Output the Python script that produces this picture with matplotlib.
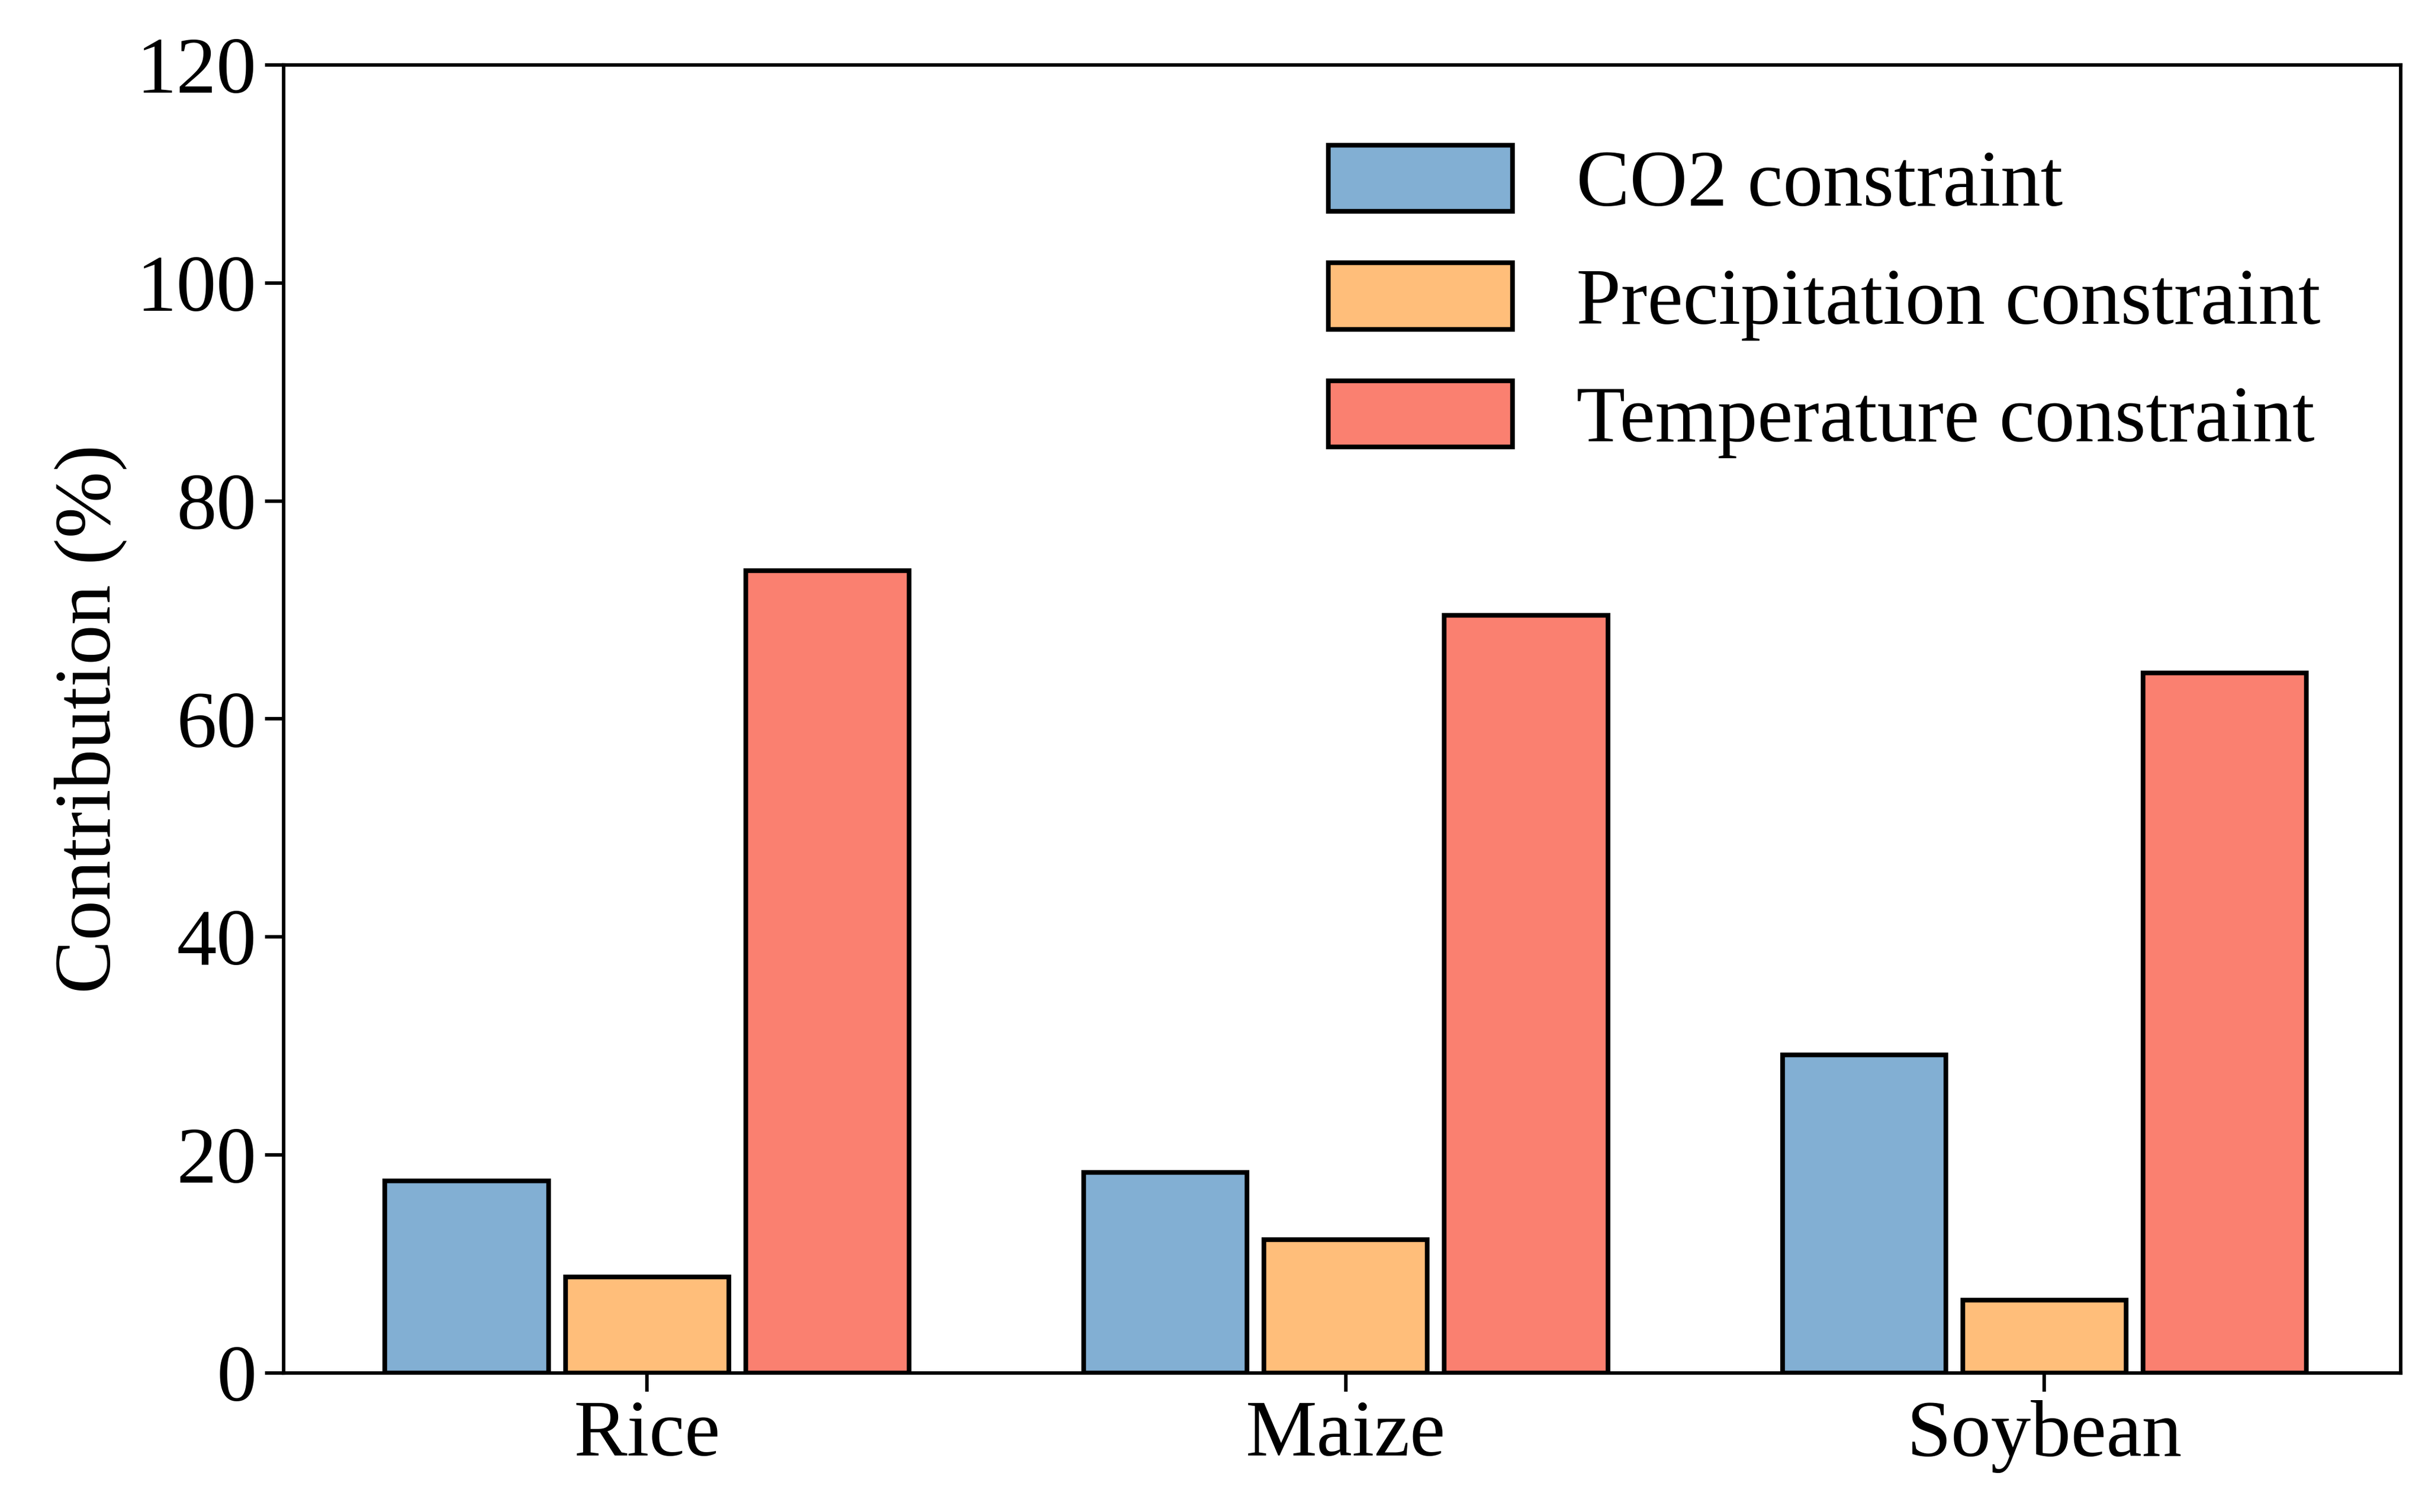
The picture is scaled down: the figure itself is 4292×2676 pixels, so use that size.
import matplotlib.pyplot as plt
import numpy as np

plt.rcParams['font.family'] = ['Liberation Serif', 'DejaVu Serif']

crops = ['Rice', 'Maize', 'Soybean']
co2 = [17.6, 18.4, 29.2]
precip = [8.8, 12.2, 6.7]
temp = [73.6, 69.5, 64.2]
labels = ['CO2 constraint', 'Precipitation constraint', 'Temperature constraint']
colors = ['#82afd3', '#ffbe7a', '#fa8070']

fig = plt.figure(figsize=(4292 / 300, 2676 / 300), dpi=300)
ax = fig.add_axes([0.117, 0.092, 0.873, 0.865])

x = np.arange(len(crops))
w = 0.234
off = 0.258
for i, (vals, lab, c) in enumerate(zip([co2, precip, temp], labels, colors)):
    ax.bar(x + (i - 1) * off, vals, w, color=c, edgecolor='black', linewidth=2, label=lab)

ax.set_xlim(-0.52, 2.51)
ax.set_ylim(0, 120)
ax.set_xticks(x)
ax.set_xticklabels(crops)
ax.set_yticks(range(0, 121, 20))
ax.tick_params(labelsize=34, width=1.5, length=8)
for s in ax.spines.values():
    s.set_linewidth(1.5)
ax.set_ylabel('Contribution (%)', fontsize=34)
ax.legend(loc='upper right', frameon=False, fontsize=34, handlelength=2.3, handleheight=0.9,
          borderaxespad=0.6)

fig.savefig('out.png', dpi=300)
